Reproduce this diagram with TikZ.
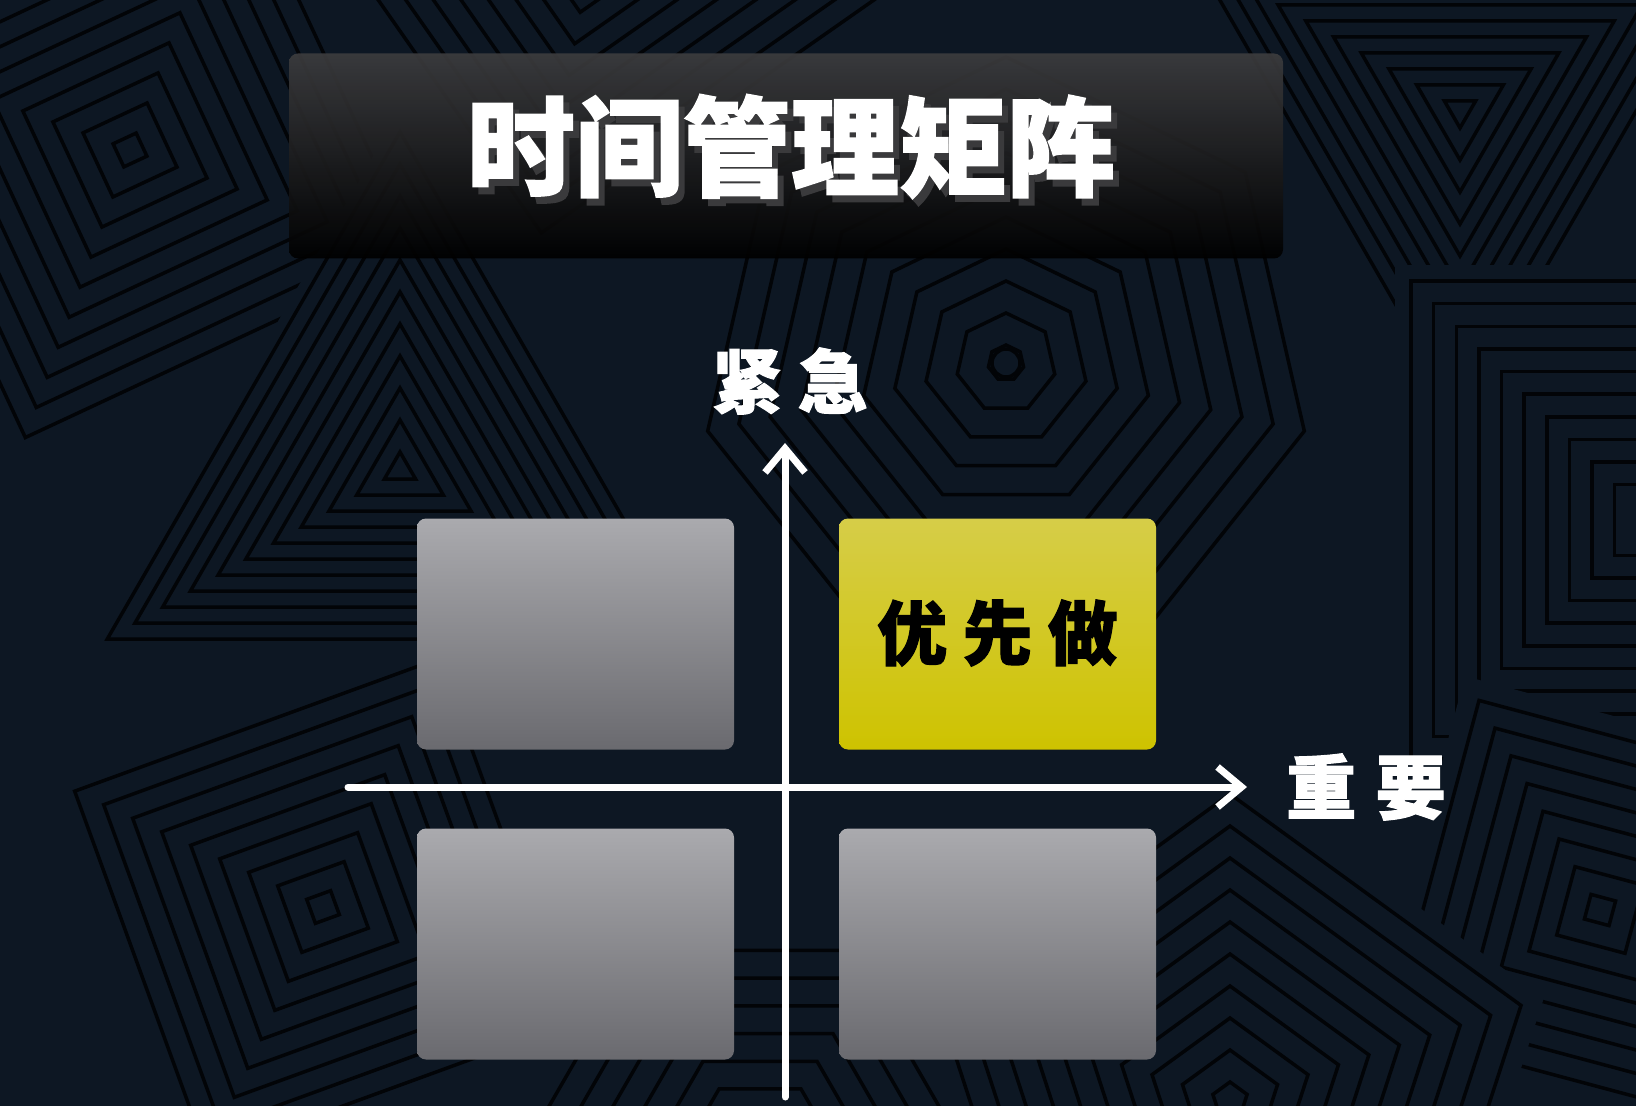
\documentclass[tikz,border=0pt]{standalone}
\usepackage{fontspec}
\newfontfamily\cjk{Noto Sans CJK SC}[BoldFeatures={FakeBold=1.5}]
\usetikzlibrary{arrows.meta}

\newlength{\du}
\setlength{\du}{0.5pt}

\definecolor{bgcolor}{RGB}{13,23,35}
\definecolor{bglinecolor}{RGB}{2,4,7}
\definecolor{cardgraytop}{RGB}{170,170,174}
\definecolor{cardgraybot}{RGB}{106,106,111}
\definecolor{cardgoldtop}{RGB}{214,205,72}
\definecolor{cardgoldmid}{RGB}{223,211,22}
\definecolor{cardgoldbot}{RGB}{206,195,0}
\definecolor{titlebartop}{RGB}{60,60,62}
\definecolor{titleshadowcolor}{RGB}{58,58,60}

% one polygon outline, centre #1,#2, #3 sides, turned by #4, radius #5
\newcommand{\polypath}[5]{({#1+(#5)*cos(#4)},{#2+(#5)*sin(#4)}) \foreach \k in {1,...,#3}{ -- ({#1+(#5)*cos(#4+360*\k/#3)},{#2+(#5)*sin(#4+360*\k/#3)})} -- cycle}
% a patch of the background: rings of one polygon
\newcommand{\polyrings}[5]{%
  \fill[bgcolor] \polypath{#1}{#2}{#3}{#4}{#5};
  \foreach \r in {18,50,...,#5}{\draw[bgline] \polypath{#1}{#2}{#3}{#4}{\r};}}
% text with a dark copy set down and to the right
\newcommand{\shadowtext}[1]{\rlap{\hspace{6\du}\raisebox{-7\du}{\textcolor{titleshadowcolor}{#1}}}\textcolor{white}{#1}}

\tikzset{
  bgline/.style={draw=bglinecolor, line width=3.5\du, line join=miter},
  cardbox/.style={rounded corners=9\du, minimum width=317\du, minimum height=231\du, inner sep=0pt},
  cardgray/.style={cardbox, top color=cardgraytop, bottom color=cardgraybot},
  cardgold/.style={cardbox, top color=cardgoldtop, middle color=cardgoldmid, bottom color=cardgoldbot,
    font=\cjk\bfseries\fontsize{35}{40}\selectfont, text=black},
  axisline/.style={draw=white, line width=7\du, line cap=round,
    -{Straight Barb[length=12pt, width=20pt, line width=3.5pt]}},
  axislabel/.style={font=\cjk\bfseries\fontsize{35}{40}\selectfont, text=white, inner sep=0pt},
  titletext/.style={font=\cjk\bfseries\fontsize{54}{60}\selectfont, inner sep=0pt}
}

\begin{document}
\begin{tikzpicture}[x=1\du,y=-1\du]
\useasboundingbox (0,0) rectangle (1636,1106);
\fill[bgcolor] (0,0) rectangle (1636,1106);

% background pattern
\begin{scope}
\clip (0,0) rectangle (1636,1106);
\polyrings{130}{150}{4}{20}{330}
\polyrings{600}{-100}{4}{10}{350}
\polyrings{1460}{110}{3}{90}{330}
\polyrings{1650}{520}{4}{45}{360}
\polyrings{1600}{910}{4}{60}{270}
\polyrings{400}{470}{3}{-90}{360}
\polyrings{1006}{363}{7}{-90}{330}
\polyrings{323}{907}{4}{25}{300}
\polyrings{760}{1160}{6}{0}{250}
\polyrings{1230}{1100}{5}{-90}{330}
\draw[bgline] (1006,363) circle (14);
\end{scope}

% title bar
\node[rounded corners=9\du, minimum width=994\du, minimum height=205\du,
  top color=titlebartop, middle color=black!96, bottom color=black, fill opacity=0.92]
  (titlebar) at (786,156) {};
\node[titletext] (title) at (791,150) {\shadowtext{时间管理矩阵}};

% quadrants
\node[cardgray] (urgentonly) at (575.5,634) {};
\node[cardgold] (dofirst) at (997.5,634) {\raisebox{9\du}{优\hspace{0.22em}先\hspace{0.22em}做}};
\node[cardgray] (neither) at (575.5,944) {};
\node[cardgray] (importantonly) at (997.5,944) {};

% axes
\coordinate (xstart) at (348,787);
\coordinate (xend) at (1247,787);
\coordinate (ystart) at (785,1097);
\coordinate (yend) at (785,443);
\draw[axisline] (xstart) -- (xend);
\draw[axisline] (ystart) -- (yend);

\node[axislabel] (urgent) at (790,381) {紧\hspace{0.22em}急};
\node[axislabel] (important) at (1366,787) {重\hspace{0.28em}要};
\end{tikzpicture}
\end{document}
